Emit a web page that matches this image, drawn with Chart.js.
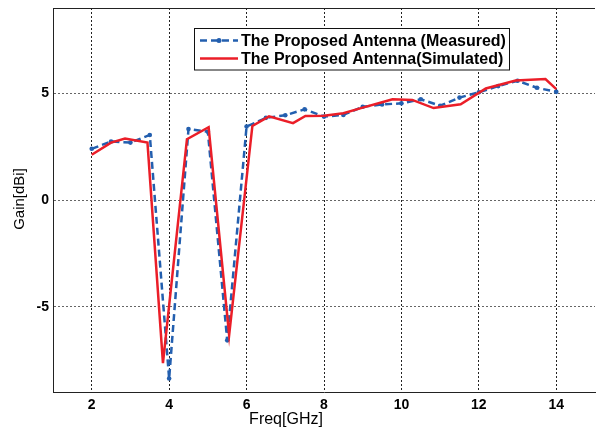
<!DOCTYPE html>
<html>
<head>
<meta charset="utf-8">
<script src="https://cdn.jsdelivr.net/npm/chart.js@4.4.1/dist/chart.umd.min.js"></script>
<style>
  html, body { margin: 0; padding: 0; background: #fff; overflow: hidden; }
  #wrap { width: 599px; height: 427px; position: relative; }
  #gain { display: block; }
</style>
</head>
<body>
<div id="wrap"><canvas id="gain"></canvas></div>
<script>
// measured gain, 0.5 GHz steps
const measFreq = [2, 2.5, 3, 3.5, 4, 4.5, 5, 5.5, 6, 6.5, 7, 7.5, 8, 8.5, 9, 9.5, 10, 10.5, 11, 11.5, 12, 12.5, 13, 13.5, 14];
const measGain = [2.4, 2.74, 2.69, 3.05, -8.37, 3.33, 3.2, -6.58, 3.44, 3.85, 3.97, 4.25, 3.91, 3.99, 4.37, 4.48, 4.53, 4.72, 4.42, 4.8, 5.05, 5.34, 5.59, 5.26, 5.07];

// simulated gain (uneven sample points)
const simFreq = [2, 2.5, 2.86, 3.44, 3.84, 4.46, 5.02, 5.55, 6.15, 6.58, 7.2, 7.52, 8, 8.5, 9, 9.5, 9.77, 10.28, 10.83, 11.53, 12.18, 12.95, 13.72, 14];
const simGain = [2.12, 2.69, 2.88, 2.69, -7.65, 2.85, 3.41, -6.33, 3.47, 3.92, 3.6, 3.94, 3.95, 4.07, 4.33, 4.58, 4.72, 4.69, 4.31, 4.49, 5.23, 5.6, 5.67, 5.2];

const xTicks = [2, 4, 6, 8, 10, 12, 14];
const yTicks = [-5, 0, 5];

const seriesNames = ['The Proposed Antenna (Measured)', 'The Proposed Antenna(Simulated)'];
const blue = 'rgb(35, 95, 175)';
const red = 'rgb(235, 30, 40)';

function toPoints(xs, ys) {
    return xs.map((x, i) => ({ x: x, y: ys[i] }));
}

// legend box, top frame line and axis titles
const decorations = {
    id: 'decorations',
    afterDraw(chart) {
        const ctx = chart.ctx;
        const area = chart.chartArea;
        ctx.save();

        ctx.strokeStyle = '#222';
        ctx.lineWidth = 1;
        ctx.beginPath();
        ctx.moveTo(area.left, area.top + 0.5);
        ctx.lineTo(area.right, area.top + 0.5);
        ctx.stroke();

        // legend
        const bx = 194.5, by = 28.5, bw = 315, bh = 41.5;
        ctx.fillStyle = '#fff';
        ctx.fillRect(bx, by, bw, bh);
        ctx.strokeStyle = '#111';
        ctx.strokeRect(bx, by, bw, bh);

        const rows = [40.5, 58.5];
        ctx.lineWidth = 2.5;
        ctx.strokeStyle = blue;
        ctx.setLineDash([7, 4]);
        ctx.beginPath();
        ctx.moveTo(200, rows[0]);
        ctx.lineTo(238, rows[0]);
        ctx.stroke();
        ctx.setLineDash([]);
        ctx.fillStyle = blue;
        ctx.beginPath();
        ctx.arc(219, rows[0], 2.5, 0, Math.PI * 2);
        ctx.fill();

        ctx.strokeStyle = red;
        ctx.beginPath();
        ctx.moveTo(200, rows[1]);
        ctx.lineTo(238, rows[1]);
        ctx.stroke();

        ctx.fillStyle = '#000';
        ctx.font = 'bold 16px "Liberation Sans", Arial, sans-serif';
        ctx.textBaseline = 'middle';
        ctx.textAlign = 'left';
        ctx.fillText(seriesNames[0], 241, rows[0] + 1);
        ctx.fillText(seriesNames[1], 241, rows[1] + 1);

        // axis titles
        ctx.font = '16px "Liberation Sans", Arial, sans-serif';
        ctx.textAlign = 'center';
        ctx.fillText('Freq[GHz]', 286, 420);

        ctx.translate(20, 199);
        ctx.rotate(-Math.PI / 2);
        ctx.font = '15px "Liberation Sans", Arial, sans-serif';
        ctx.fillText('Gain[dBi]', 0, 0);
        ctx.restore();
    }
};

const tickFont = { family: '"Liberation Sans", Arial, sans-serif', size: 14, weight: 'bold' };

new Chart(document.getElementById('gain'), {
    type: 'line',
    data: {
        datasets: [{
            label: seriesNames[1],
            data: toPoints(simFreq, simGain),
            borderColor: red,
            borderWidth: 2.5,
            pointRadius: 0,
            tension: 0,
            order: 0
        }, {
            label: seriesNames[0],
            data: toPoints(measFreq, measGain),
            borderColor: blue,
            backgroundColor: blue,
            borderWidth: 2.5,
            borderDash: [7, 4],
            pointRadius: 2.3,
            pointBorderWidth: 0,
            tension: 0,
            order: 1
        }]
    },
    options: {
        responsive: true,
        maintainAspectRatio: false,
        animation: false,
        layout: { padding: { top: 8, right: -4, left: 0, bottom: 0 } },
        scales: {
            x: {
                type: 'linear',
                min: 1,
                max: 15,
                afterBuildTicks: scale => { scale.ticks = xTicks.map(v => ({ value: v })); },
                afterFit: scale => {
                    scale.height = 35;
                    scale.paddingLeft = 0;
                    scale.paddingRight = 0;
                },
                ticks: { color: '#000', font: tickFont, padding: 5, maxRotation: 0 },
                grid: { color: '#222', lineWidth: 1, drawTicks: false },
                border: { color: '#222', width: 1, dash: [2, 2] }
            },
            y: {
                min: -9,
                max: 9,
                afterBuildTicks: scale => { scale.ticks = yTicks.map(v => ({ value: v })); },
                afterFit: scale => {
                    scale.width = 53;
                    scale.paddingTop = 0;
                    scale.paddingBottom = 0;
                },
                ticks: { color: '#000', font: tickFont, padding: 4 },
                grid: { color: '#666', lineWidth: 1, drawTicks: false },
                border: { color: '#222', width: 1, dash: [2, 2] }
            }
        },
        plugins: {
            legend: { display: false },
            tooltip: { enabled: false }
        }
    },
    plugins: [decorations]
});
</script>
</body>
</html>
